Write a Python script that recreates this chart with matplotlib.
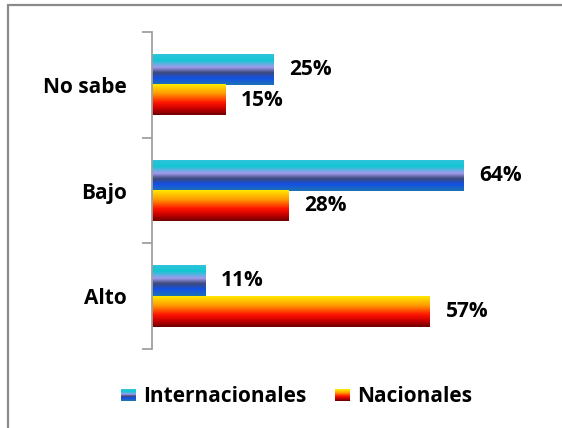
import numpy as np
import matplotlib
matplotlib.use("Agg")
import matplotlib.pyplot as plt
from matplotlib.colors import LinearSegmentedColormap
from matplotlib.patches import Rectangle
from matplotlib.legend_handler import HandlerBase

plt.rcParams['font.family'] = ['Open Sans', 'DejaVu Sans']
plt.rcParams['font.weight'] = 'bold'

categorias = ['Alto', 'Bajo', 'No sabe']
internacionales = [11, 64, 25]
nacionales = [57, 28, 15]
series = ['Internacionales', 'Nacionales']

# gradientes de arriba hacia abajo
azul = LinearSegmentedColormap.from_list('azul', [
    (0.0, '#2fc4dc'), (0.2, '#12c6d2'), (0.42, '#a29cee'),
    (0.6, '#3c4a7c'), (0.78, '#1450e6'), (1.0, '#1c72b4')])
rojo = LinearSegmentedColormap.from_list('rojo', [
    (0.0, '#ffe800'), (0.3, '#ff9a00'), (0.6, '#ff1500'),
    (0.8, '#c80000'), (1.0, '#700000')])
cmaps = [azul, rojo]

grad = np.linspace(0, 1, 64).reshape(-1, 1)
fs = 15

fig = plt.figure(figsize=(5.62, 4.28), dpi=100)
fig.patches.append(Rectangle((8 / 562, -0.1), 1.2, 1 - 5 / 428 + 0.1,
                             transform=fig.transFigure, fill=False,
                             edgecolor='#8a8a8a', linewidth=1.6))
ax = fig.add_axes([152 / 562, 79 / 428, 390 / 562, 317 / 428])

y = np.arange(len(categorias))
h = 0.29
for k, vals in enumerate([internacionales, nacionales]):
    off = h / 2 if k == 0 else -h / 2
    for yi, v in zip(y, vals):
        yc = yi + off
        ax.imshow(grad, cmap=cmaps[k], aspect='auto', interpolation='bilinear',
                  extent=[0, v, yc - h / 2, yc + h / 2], zorder=2)
        ax.text(v + 3.2, yc, f'{v}%', va='center', ha='left',
                fontsize=fs, fontweight='bold')

ax.set_xlim(0, 80)
ax.set_ylim(-0.5, 2.5)

for s in ['top', 'right', 'bottom']:
    ax.spines[s].set_visible(False)
ax.spines['left'].set_color('#a0a0a0')
ax.spines['left'].set_linewidth(1.3)
ax.set_xticks([])
ax.set_yticks([-0.5, 0.5, 1.5, 2.5])
ax.set_yticklabels([])
ax.tick_params(axis='y', which='major', length=7, color='#a0a0a0', width=1.3)
ax.set_yticks(y, minor=True)
ax.set_yticklabels(categorias, minor=True, fontsize=fs, fontweight='bold')
ax.tick_params(axis='y', which='minor', length=0, pad=18)


class HandlerGradiente(HandlerBase):
    def __init__(self, cmap):
        super().__init__()
        self.cmap = cmap

    def create_artists(self, legend, orig_handle, xdescent, ydescent,
                       width, height, fontsize, trans):
        n = 12
        arts = []
        for i in range(n):
            hh = height / n
            r = Rectangle((-xdescent, -ydescent + height - (i + 1) * hh), width, hh,
                          facecolor=self.cmap(i / (n - 1)), edgecolor='none',
                          transform=trans)
            arts.append(r)
        return arts


handles = [Rectangle((0, 0), 1, 1), Rectangle((0, 0), 1, 1)]
ax.legend(handles, series, loc='center', bbox_to_anchor=(0.528, 31 / 428),
          bbox_transform=fig.transFigure, ncol=2, frameon=False,
          fontsize=fs, handlelength=0.7, handleheight=0.55, handletextpad=0.35,
          columnspacing=1.4,
          handler_map={handles[0]: HandlerGradiente(azul),
                       handles[1]: HandlerGradiente(rojo)})

fig.savefig('out.png', dpi=100)
